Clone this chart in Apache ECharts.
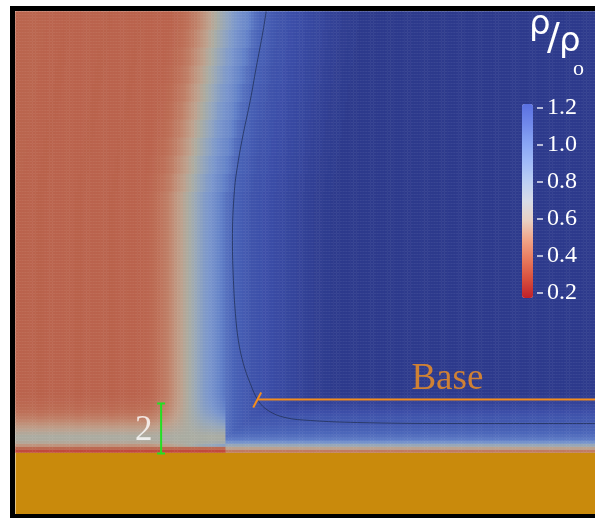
<!DOCTYPE html>
<html><head><meta charset="utf-8">
<script src="https://cdn.jsdelivr.net/npm/echarts@6/dist/echarts.min.js"></script>
<style>html,body{margin:0;padding:0;background:#fff}#c{width:595px;height:518px}</style>
</head><body><div id="c"></div>
<script>
// Density rho/rho0 read along a horizontal cut at mid-height, one value per 3 px column (left to right)
const midDensity = [
  0.33,0.32,0.32,0.32,0.32,0.32,0.32,0.31,0.31,0.31,
  0.32,0.32,0.32,0.32,0.32,0.32,0.32,0.32,0.32,0.32,
  0.32,0.31,0.31,0.31,0.32,0.32,0.32,0.32,0.32,0.32,
  0.32,0.32,0.32,0.31,0.31,0.32,0.32,0.32,0.32,0.32,
  0.32,0.32,0.32,0.32,0.32,
  0.33,0.34,0.35,0.36,0.38,0.40,0.42,0.44,0.46,0.49,
  0.52,0.55,0.58,0.61,0.65,0.68,0.72,0.75,0.78,0.81,
  0.84,0.87,0.89,0.91,0.93,0.95,0.97,1.00,1.03,1.06,
  1.08,1.10,1.11,1.12,1.13,1.14,1.15,1.16,1.17,1.17,
  1.18,1.18,1.19,1.19,1.20,1.20,1.21,1.21,1.22,1.22,
  1.23,1.23,1.24,1.24,1.25,1.25,1.26,1.26,1.27,1.27,
  1.28,1.28,1.28,1.29,1.29,1.29,1.30,
  1.30,1.30,1.30,1.30,1.30,1.30,1.30,1.30,1.30,1.30,
  1.30,1.30,1.30,1.30,1.30,1.30,1.30,1.30,1.30,1.30,
  1.30,1.30,1.30,1.30,1.30,1.30,1.30,1.30,1.30,1.30,
  1.30,1.30,1.30,1.30,1.30,1.30,1.30,1.30,1.30,1.30,
  1.30,1.30,1.30,1.30,1.30,1.30,1.30,1.30,1.30,1.30,
  1.30,1.30,1.30,1.30,1.30,1.30,1.30,1.30,1.30,1.30,
  1.30,1.30,1.30,1.30,1.30,1.30,1.30,1.30,1.30,1.30,
  1.30,1.30,1.30,1.30,1.30,1.30,1.30,1.30,1.30,1.30,
  1.30,1.30,1.30,1.30,1.30,1.30,1.30,1.30,1.30,1.30,
  1.30,1.30
];
// Rightward lean of the front near the top, in columns, per band of 6 rows (top band first)
const frontShift = [10,9,8,7,6,5,4,3,2,1];
// Boundary-layer rows just above the ground (bottom-up), read on the left (hot) side and right (cold) side
const leftLayer  = [0.18,0.36,0.55,0.66,0.69,0.69,0.66,0.62,0.58,0.54,0.50,0.46,0.43,0.40,0.38,0.36,0.35,0.34,0.33];
const rightLayer = [0.45,0.62,0.78,0.92,1.02,1.06,1.09,1.11,1.12,1.14,1.15,1.16,1.17,1.19,1.21,1.23,1.25,1.27,1.28];
// Contour line (length units, y = 0 at the ground)
const contourX = [10.12,10.0,9.72,9.48,9.2,9.0,8.84,8.76,8.8,8.88,9.0,9.2,9.48,9.8,10.2,10.88,11.92,13.8,17.4,23.4];
const contourY = [17.68,16.92,15.44,14.12,12.8,11.72,10.52,8.52,6.92,5.6,4.52,3.6,2.8,2.12,1.72,1.44,1.32,1.24,1.2,1.2];
// Ground (solid wall) extent, length units
const groundTop = 0.04, groundBottom = -2.48;
// "Base" marker line and its end tick
const baseLineX = [9.8, 23.4], baseLineY = [2.16, 2.16];
const baseTickX = [9.6, 9.92], baseTickY = [1.84, 2.44];
const baseLabel = 'Base', baseLabelPos = [17.44, 2.96];
// Scale bar (length 2)
const scaleBarX = 5.88, scaleBarLength = 2, scaleLabel = '2', scaleLabelPos = [5.18, 0.92];
const colorbarMin = 0.2, colorbarMax = 1.2, colorbarStep = 0.2;

const NCOL = midDensity.length, NROW = 168, GROUND_ROWS = 21;
const SEAM = 74, RED_BASE = 0.32, GRAY = 0.70, BAND = 6;
const cells = [];
for (let r = GROUND_ROWS; r < NROW; r++) {
  for (let c = 0; c < NCOL; c++) {
    let v;
    const band = Math.floor((NROW - 1 - r) / BAND);
    const sh = band < frontShift.length ? frontShift[band] : 0;
    const base = midDensity[Math.max(0, c - sh)];
    const k = r - GROUND_ROWS;
    if (c < SEAM) {
      if (k < 2) v = leftLayer[k];
      else if (k < leftLayer.length) {
        const mix = (leftLayer[k] - RED_BASE) / (GRAY - RED_BASE);
        v = base + (GRAY - base) * mix;
      } else v = base;
    } else {
      v = k < rightLayer.length ? Math.min(base, rightLayer[k]) : base;
    }
    cells.push([c, r, v]);
  }
}
const xCats = midDensity.map((_, i) => i);
const yCats = []; for (let r = 0; r < NROW; r++) yCats.push(r);
const zip = (a, b) => a.map((x, i) => [x, b[i]]);

const chart = echarts.init(document.getElementById('c'), null, {renderer: 'canvas'});
chart.setOption({
  animation: false,
  backgroundColor: '#ffffff',
  grid: [
    {left: 15.5, top: 11.5, width: 585, height: 504},
    {left: 522, top: 108, width: 21, height: 185}
  ],
  xAxis: [
    {type: 'category', gridIndex: 0, data: xCats, show: false},
    {type: 'value', gridIndex: 0, min: 0, max: 23.4, show: false},
    {type: 'value', gridIndex: 1, show: false, min: 0, max: 1}
  ],
  yAxis: [
    {type: 'category', gridIndex: 0, data: yCats, show: false},
    {type: 'value', gridIndex: 0, min: groundBottom, max: 17.68, show: false},
    {type: 'value', gridIndex: 1, min: colorbarMin, max: colorbarMax, interval: colorbarStep, position: 'right', z: 20,
     axisLine: {show: false, onZero: false}, splitLine: {show: false},
     axisTick: {show: true, inside: true, length: 6, lineStyle: {color: '#e6e8f2', width: 1.5}},
     axisLabel: {color: '#ffffff', fontFamily: 'Liberation Serif', fontSize: 24, margin: 4,
                 formatter: v => v.toFixed(1)}}
  ],
  visualMap: [
    {type: 'continuous', show: false, seriesIndex: 0, min: 0.1, max: 1.3, dimension: 2,
     inRange: {color: ['#c43c34','#bf4e40','#b9604a','#bd7058','#c08870','#bea08c','#aaaca2','#94a6bc','#7a96cc','#6280c8','#4a64b8','#3a4ca6','#2d3a8c']}},
    {type: 'continuous', show: true, seriesIndex: 7, min: 0.17, max: 1.22, calculable: false, z: 20,
     left: 522, top: 104, itemWidth: 11, itemHeight: 194, padding: 0, text: null, textGap: 0,
     inRange: {color: ['#c0202a','#d8503e','#e87a5e','#f0a488','#e8d0c4','#d8dce8','#bccff4','#a0baf8','#88a4f4','#7088ea','#5a70e0']}}
  ],
  series: [
    {type: 'heatmap', xAxisIndex: 0, yAxisIndex: 0, data: cells, progressive: 0, itemStyle: {borderWidth: 0}, silent: true},
    {type: 'line', xAxisIndex: 1, yAxisIndex: 1, data: zip(contourX, contourY), symbol: 'none', smooth: 0.4,
     lineStyle: {color: '#24345e', width: 1, opacity: 0.85}, silent: true,
     markArea: {silent: true, itemStyle: {color: '#c98a0c', opacity: 1},
                data: [[{coord: [0, groundBottom]}, {coord: [23.4, groundTop]}]]}},
    {type: 'line', xAxisIndex: 1, yAxisIndex: 1, data: zip(baseLineX, baseLineY), symbol: 'none',
     lineStyle: {color: '#f58e1c', width: 2}, silent: true},
    {type: 'line', xAxisIndex: 1, yAxisIndex: 1, data: zip(baseTickX, baseTickY), symbol: 'none',
     lineStyle: {color: '#f58e1c', width: 2}, silent: true},
    {type: 'line', xAxisIndex: 1, yAxisIndex: 1, z: 5, data: [[scaleBarX, 0], [scaleBarX, scaleBarLength]], symbol: 'none',
     lineStyle: {color: '#22e022', width: 2}, silent: true},
    {type: 'line', xAxisIndex: 1, yAxisIndex: 1, z: 5, data: [[scaleBarX - 0.16, scaleBarLength], [scaleBarX + 0.16, scaleBarLength]], symbol: 'none',
     lineStyle: {color: '#22e022', width: 2}, silent: true},
    {type: 'line', xAxisIndex: 1, yAxisIndex: 1, z: 5, data: [[scaleBarX - 0.16, 0], [scaleBarX + 0.16, 0]], symbol: 'none',
     lineStyle: {color: '#22e022', width: 2}, silent: true},
    {type: 'line', xAxisIndex: 2, yAxisIndex: 2, data: [], silent: true},
    {type: 'scatter', xAxisIndex: 1, yAxisIndex: 1, symbolSize: 1, z: 10,
     itemStyle: {color: 'transparent'}, silent: true,
     label: {show: true, position: 'inside', fontFamily: 'Liberation Serif', fontSize: 37},
     data: [
       {value: baseLabelPos, label: {formatter: baseLabel, color: '#f7921e', fontSize: 37}},
       {value: scaleLabelPos, label: {formatter: scaleLabel, color: '#ffffff', fontSize: 35}}
     ],
     emphasis: {disabled: true}}
  ],
  graphic: [
    {type: 'rect', z: 100, shape: {x: 12.5, y: 8.5, width: 700, height: 508},
     style: {fill: 'none', stroke: '#000000', lineWidth: 5}, silent: true},
    {type: 'text', z: 100, style: {text: 'ρ', x: 529, y: 25, font: '34px "DejaVu Sans"', fill: '#ffffff', verticalAlign: 'middle'}},
    {type: 'text', z: 100, style: {text: '/', x: 547, y: 39, font: '38px "DejaVu Sans"', fill: '#ffffff', verticalAlign: 'middle'}},
    {type: 'text', z: 100, style: {text: 'ρ', x: 559, y: 42, font: '34px "DejaVu Sans"', fill: '#ffffff', verticalAlign: 'middle'}},
    {type: 'text', z: 100, style: {text: 'o', x: 573, y: 69, font: '22px "Liberation Serif"', fill: '#ffffff', verticalAlign: 'middle'}}
  ]
});
</script></body></html>
